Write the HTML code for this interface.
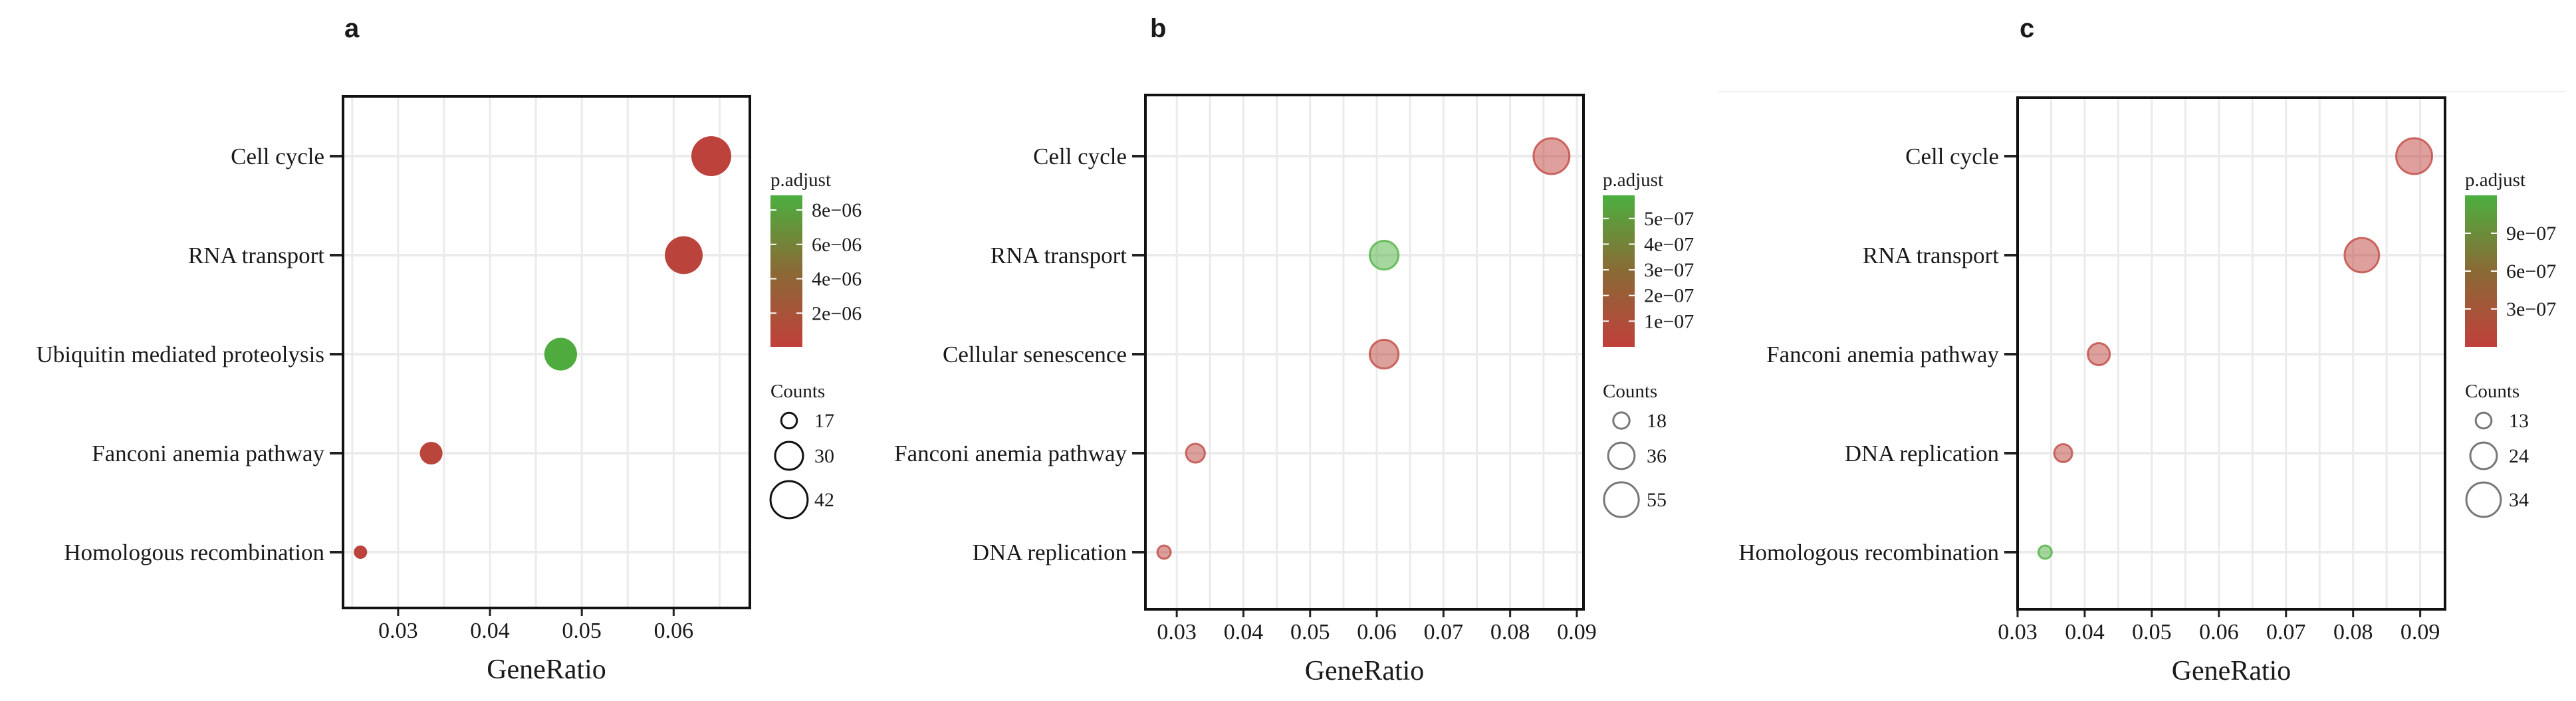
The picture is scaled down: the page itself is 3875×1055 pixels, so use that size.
<!DOCTYPE html>
<html><head><meta charset="utf-8"><style>
html,body{margin:0;padding:0;background:#fff;}
svg{display:block;}
text{font-family:"Liberation Serif",serif;fill:#1a1a1a;}
text.lbl{font-family:"Liberation Sans",sans-serif;font-weight:bold;}
</style></head><body>
<svg id="fig" width="3875" height="1055" viewBox="0 0 3875 1055" xmlns="http://www.w3.org/2000/svg">
<defs>
<linearGradient id="cg" x1="0" y1="1" x2="0" y2="0">
<stop offset="0" stop-color="#c0403c"/><stop offset="0.5" stop-color="#8a6a35"/><stop offset="1" stop-color="#4caf3f"/>
</linearGradient>
</defs>
<line x1="2585" y1="138" x2="3860" y2="138" stroke="#f0f0f0" stroke-width="2"/>
</svg>
<script>
// Panel a data
const aCategories = ["Cell cycle","RNA transport","Ubiquitin mediated proteolysis","Fanconi anemia pathway","Homologous recombination"];
const aRatio = [0.0641,0.0611,0.0477,0.0336,0.0259];
const aCounts = [46,43,36,24,15];
const aPadj = [0.3e-6,0.5e-6,8.6e-6,0.6e-6,0.4e-6];
const aXTicks = [0.03,0.04,0.05,0.06];
const aPTicks = [2e-6,4e-6,6e-6,8e-6];
const aPLabels = ["2e\u221206","4e\u221206","6e\u221206","8e\u221206"];
const aCountTicks = [17,30,42];
// Panel b data
const bCategories = ["Cell cycle","RNA transport","Cellular senescence","Fanconi anemia pathway","DNA replication"];
const bRatio = [0.0862,0.0611,0.0611,0.0328,0.0281];
const bCounts = [58,41,41,22,14];
const bPadj = [0.02e-7,5.9e-7,0.3e-7,0.2e-7,0.2e-7];
const bXTicks = [0.03,0.04,0.05,0.06,0.07,0.08,0.09];
const bPTicks = [1e-7,2e-7,3e-7,4e-7,5e-7];
const bPLabels = ["1e\u221207","2e\u221207","3e\u221207","4e\u221207","5e\u221207"];
const bCountTicks = [18,36,55];
// Panel c data
const cCategories = ["Cell cycle","RNA transport","Fanconi anemia pathway","DNA replication","Homologous recombination"];
const cRatio = [0.0891,0.0813,0.0421,0.0368,0.0341];
const cCounts = [36,34,19,15,11];
const cPadj = [0.1e-7,0.2e-7,0.3e-7,0.4e-7,12e-7];
const cXTicks = [0.03,0.04,0.05,0.06,0.07,0.08,0.09];
const cPTicks = [3e-7,6e-7,9e-7];
const cPLabels = ["3e\u221207","6e\u221207","9e\u221207"];
const cCountTicks = [13,24,34];

const NS="http://www.w3.org/2000/svg";
const svg=document.getElementById('fig');
function mk(tag,attrs,parent){const e=document.createElementNS(NS,tag);for(const k in attrs)e.setAttribute(k,attrs[k]);(parent||svg).appendChild(e);return e;}
function lerpColor(t){
  const s=[[192,64,60],[138,106,53],[76,175,63]];
  let i=t<0.5?0:1,u=t<0.5?t*2:(t-0.5)*2;
  const c=s[i].map((v,j)=>Math.round(v+(s[i+1][j]-v)*u));return `rgb(${c[0]},${c[1]},${c[2]})`;
}
function panel(o){
  const g=mk('g',{});
  
  
  const {L,R,T,B,x0,x1,p0,p1,rows}=o;
  const xs=v=>L+(v-x0)/(x1-x0)*(R-L);
  const ys=i=>rows[0]+i*(rows[1]-rows[0]);
  const rMin=o.rRange[0],rMax=o.rRange[1],cMin=o.cDom[0],cMax=o.cDom[1];
  const rs=c=>rMin+(Math.sqrt(c)-Math.sqrt(cMin))/(Math.sqrt(cMax)-Math.sqrt(cMin))*(rMax-rMin);
  const t=mk('text',{x:o.labelX,y:56,'font-size':40,'class':'lbl'},g);t.textContent=o.id;
  
  const step=o.xTicks[1]-o.xTicks[0];
  for(let v=o.xTicks[0]-step;v<=x1+1e-9;v+=step/2){
    if(v<x0)continue;const x=xs(v);
    const gl=mk('line',{x1:x,x2:x,y1:T,y2:B,stroke:'#ebebeb','stroke-width':3},g);
    
  }
  o.cats.forEach((c,i)=>{const y=ys(i);
    const gl=mk('line',{x1:L,x2:R,y1:y,y2:y,stroke:'#ebebeb','stroke-width':4},g);
    
    const tk=mk('line',{x1:L-20,x2:L,y1:y,y2:y,stroke:'#222','stroke-width':4},g);
    
    const lb=mk('text',{x:L-28,y:y+12,'font-size':35,'text-anchor':'end'},g);lb.textContent=c;
    
  });
  o.xTicks.forEach(v=>{const x=xs(v);
    const tk=mk('line',{x1:x,x2:x,y1:B,y2:B+12,stroke:'#222','stroke-width':3},g);
    
    const lb=mk('text',{x:x,y:B+45,'font-size':34,'text-anchor':'middle'},g);lb.textContent=v.toFixed(2);
    
  });
  const xt=mk('text',{x:(L+R)/2,y:B+106,'font-size':42,'text-anchor':'middle'},g);xt.textContent='GeneRatio';
  
  o.ratio.forEach((v,i)=>{
    const col=lerpColor(Math.max(0,Math.min(1,(o.padj[i]-p0)/(p1-p0))));
    const c=mk('circle',{cx:xs(v),cy:ys(i),r:rs(o.counts[i]),fill:col,'fill-opacity':o.alpha,stroke:col,'stroke-opacity':o.alpha<1?0.75:1,'stroke-width':o.alpha<1?3:0},g);
    
    
  });
  const box=mk('rect',{x:L,y:T,width:R-L,height:B-T,fill:'none',stroke:'#111','stroke-width':4},g);
  
  const cbx=o.cbX,cbT=294,cbB=522,cbW=48;
  const pt=mk('text',{x:cbx,y:280,'font-size':29},g);pt.textContent='p.adjust';
  
  const cb=mk('rect',{x:cbx,y:cbT,width:cbW,height:cbB-cbT,fill:'url(#cg)'},g);
  
  const py=p=>cbB-(p-p0)/(p1-p0)*(cbB-cbT);
  o.pTicks.forEach((p,i)=>{const y=py(p);
    mk('line',{x1:cbx,x2:cbx+9,y1:y,y2:y,stroke:'#fff','stroke-width':2},g);
    mk('line',{x1:cbx+cbW-9,x2:cbx+cbW,y1:y,y2:y,stroke:'#fff','stroke-width':2},g);
    const lb=mk('text',{x:cbx+cbW+14,y:y+10,'font-size':30},g);lb.textContent=o.pLabels[i];
    
  });
  const ct=mk('text',{x:cbx,y:598,'font-size':29},g);ct.textContent='Counts';
  
  const ly=[633,686,752];
  o.cTicks.forEach((c,i)=>{
    const lc=mk('circle',{cx:cbx+28,cy:ly[i],r:rs(c),fill:'none',stroke:o.alpha<1?'#777':'#111','stroke-width':3},g);
    
    const lb=mk('text',{x:cbx+66,y:ly[i]+10,'font-size':30},g);lb.textContent=c;
    
  });
}
panel({id:'a',L:516,R:1128,T:145,B:915,x0:0.024,x1:0.0683,rows:[235,384],labelX:518,
  cats:aCategories,ratio:aRatio,counts:aCounts,padj:aPadj,xTicks:aXTicks,pTicks:aPTicks,pLabels:aPLabels,cTicks:aCountTicks,
  p0:0.04e-6,p1:8.85e-6,rRange:[10,30],cDom:[15,46],alpha:1,cbX:1159});
panel({id:'b',L:1723,R:2382,T:143,B:917,x0:0.0253,x1:0.091,rows:[235,384],labelX:1730,
  cats:bCategories,ratio:bRatio,counts:bCounts,padj:bPadj,xTicks:bXTicks,pTicks:bPTicks,pLabels:bPLabels,cTicks:bCountTicks,
  p0:0,p1:5.9e-7,rRange:[10,27],cDom:[14,58],alpha:0.5,cbX:2411});
panel({id:'c',L:3035,R:3678,T:147,B:917,x0:0.03,x1:0.0937,rows:[235,384],labelX:3038,
  cats:cCategories,ratio:cRatio,counts:cCounts,padj:cPadj,xTicks:cXTicks,pTicks:cPTicks,pLabels:cPLabels,cTicks:cCountTicks,
  p0:0,p1:1.2e-6,rRange:[10,27],cDom:[11,36],alpha:0.5,cbX:3708});
</script>
</body></html>
